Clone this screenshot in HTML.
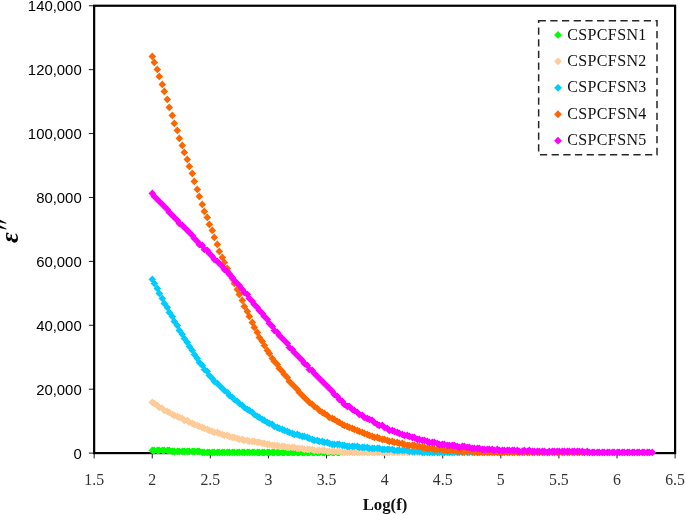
<!DOCTYPE html>
<html><head><meta charset="utf-8"><title>chart</title>
<style>html,body{margin:0;padding:0;background:#fff}svg{display:block;will-change:transform}</style>
</head><body>
<svg width="685" height="515" viewBox="0 0 685 515">
<rect width="685" height="515" fill="#fff"/>
<g stroke="#000" fill="none">
<rect x="94.15" y="5.75" width="580.95" height="447.35" stroke-width="2.2"/>
<path d="M94.15 453.1v5.3M152.25 453.1v5.3M210.34 453.1v5.3M268.44 453.1v5.3M326.53 453.1v5.3M384.62 453.1v5.3M442.72 453.1v5.3M500.82 453.1v5.3M558.91 453.1v5.3M617.00 453.1v5.3M675.10 453.1v5.3M94.15 453.10h-5.3M94.15 389.19h-5.3M94.15 325.29h-5.3M94.15 261.38h-5.3M94.15 197.47h-5.3M94.15 133.56h-5.3M94.15 69.66h-5.3M94.15 5.75h-5.3" stroke-width="0.9"/>
</g>
<path d="M152.3 446.6l3.8 3.8-3.8 3.8-3.8-3.8zM154.3 446.6l3.8 3.8-3.8 3.8-3.8-3.8zM157.3 446.6l3.8 3.8-3.8 3.8-3.8-3.8zM159.3 446.6l3.8 3.8-3.8 3.8-3.8-3.8zM162.3 446.6l3.8 3.8-3.8 3.8-3.8-3.8zM164.3 446.6l3.8 3.8-3.8 3.8-3.8-3.8zM167.3 446.6l3.8 3.8-3.8 3.8-3.8-3.8zM169.3 446.6l3.8 3.8-3.8 3.8-3.8-3.8zM172.3 447.6l3.8 3.8-3.8 3.8-3.8-3.8zM174.3 447.6l3.8 3.8-3.8 3.8-3.8-3.8zM177.3 447.6l3.8 3.8-3.8 3.8-3.8-3.8zM179.3 447.6l3.8 3.8-3.8 3.8-3.8-3.8zM182.3 447.6l3.8 3.8-3.8 3.8-3.8-3.8zM184.3 447.6l3.8 3.8-3.8 3.8-3.8-3.8zM187.3 447.6l3.8 3.8-3.8 3.8-3.8-3.8zM189.3 447.6l3.8 3.8-3.8 3.8-3.8-3.8zM192.3 447.6l3.8 3.8-3.8 3.8-3.8-3.8zM194.3 447.6l3.8 3.8-3.8 3.8-3.8-3.8zM197.3 447.6l3.8 3.8-3.8 3.8-3.8-3.8zM199.3 447.6l3.8 3.8-3.8 3.8-3.8-3.8zM202.3 448.6l3.8 3.8-3.8 3.8-3.8-3.8zM204.3 448.6l3.8 3.8-3.8 3.8-3.8-3.8zM207.3 448.6l3.8 3.8-3.8 3.8-3.8-3.8zM209.3 448.6l3.8 3.8-3.8 3.8-3.8-3.8zM212.3 448.6l3.8 3.8-3.8 3.8-3.8-3.8zM214.3 448.6l3.8 3.8-3.8 3.8-3.8-3.8zM217.3 448.6l3.8 3.8-3.8 3.8-3.8-3.8zM219.3 448.6l3.8 3.8-3.8 3.8-3.8-3.8zM222.3 448.6l3.8 3.8-3.8 3.8-3.8-3.8zM224.3 448.6l3.8 3.8-3.8 3.8-3.8-3.8zM227.3 448.6l3.8 3.8-3.8 3.8-3.8-3.8zM229.3 448.6l3.8 3.8-3.8 3.8-3.8-3.8zM232.3 448.6l3.8 3.8-3.8 3.8-3.8-3.8zM234.3 448.6l3.8 3.8-3.8 3.8-3.8-3.8zM237.3 448.6l3.8 3.8-3.8 3.8-3.8-3.8zM239.3 448.6l3.8 3.8-3.8 3.8-3.8-3.8zM242.3 448.6l3.8 3.8-3.8 3.8-3.8-3.8zM244.3 448.6l3.8 3.8-3.8 3.8-3.8-3.8zM247.3 448.6l3.8 3.8-3.8 3.8-3.8-3.8zM249.3 448.6l3.8 3.8-3.8 3.8-3.8-3.8zM252.3 448.6l3.8 3.8-3.8 3.8-3.8-3.8zM254.3 448.6l3.8 3.8-3.8 3.8-3.8-3.8zM257.3 448.6l3.8 3.8-3.8 3.8-3.8-3.8zM259.3 448.6l3.8 3.8-3.8 3.8-3.8-3.8zM262.3 448.6l3.8 3.8-3.8 3.8-3.8-3.8zM264.3 448.6l3.8 3.8-3.8 3.8-3.8-3.8zM267.3 448.6l3.8 3.8-3.8 3.8-3.8-3.8zM269.3 448.6l3.8 3.8-3.8 3.8-3.8-3.8zM272.3 448.6l3.8 3.8-3.8 3.8-3.8-3.8zM274.3 448.6l3.8 3.8-3.8 3.8-3.8-3.8zM277.3 448.6l3.8 3.8-3.8 3.8-3.8-3.8zM279.3 448.6l3.8 3.8-3.8 3.8-3.8-3.8zM282.3 448.6l3.8 3.8-3.8 3.8-3.8-3.8zM284.3 448.6l3.8 3.8-3.8 3.8-3.8-3.8zM287.3 448.6l3.8 3.8-3.8 3.8-3.8-3.8zM289.3 448.6l3.8 3.8-3.8 3.8-3.8-3.8zM292.3 448.6l3.8 3.8-3.8 3.8-3.8-3.8zM294.3 448.6l3.8 3.8-3.8 3.8-3.8-3.8zM297.3 448.6l3.8 3.8-3.8 3.8-3.8-3.8zM299.3 448.6l3.8 3.8-3.8 3.8-3.8-3.8zM302.3 448.6l3.8 3.8-3.8 3.8-3.8-3.8zM304.3 448.6l3.8 3.8-3.8 3.8-3.8-3.8zM307.3 448.6l3.8 3.8-3.8 3.8-3.8-3.8zM309.3 448.6l3.8 3.8-3.8 3.8-3.8-3.8zM312.3 448.6l3.8 3.8-3.8 3.8-3.8-3.8zM314.3 448.6l3.8 3.8-3.8 3.8-3.8-3.8zM317.3 448.6l3.8 3.8-3.8 3.8-3.8-3.8zM319.3 448.6l3.8 3.8-3.8 3.8-3.8-3.8zM322.3 448.6l3.8 3.8-3.8 3.8-3.8-3.8zM324.3 448.6l3.8 3.8-3.8 3.8-3.8-3.8zM327.3 448.6l3.8 3.8-3.8 3.8-3.8-3.8zM329.3 448.6l3.8 3.8-3.8 3.8-3.8-3.8zM332.3 448.6l3.8 3.8-3.8 3.8-3.8-3.8zM334.3 448.6l3.8 3.8-3.8 3.8-3.8-3.8zM337.3 448.6l3.8 3.8-3.8 3.8-3.8-3.8zM339.3 448.6l3.8 3.8-3.8 3.8-3.8-3.8z" fill="#00FF00"/>
<path d="M152.3 398.6l3.8 3.8-3.8 3.8-3.8-3.8zM154.3 399.6l3.8 3.8-3.8 3.8-3.8-3.8zM157.3 401.6l3.8 3.8-3.8 3.8-3.8-3.8zM159.3 403.6l3.8 3.8-3.8 3.8-3.8-3.8zM162.3 404.6l3.8 3.8-3.8 3.8-3.8-3.8zM164.3 406.6l3.8 3.8-3.8 3.8-3.8-3.8zM167.3 407.6l3.8 3.8-3.8 3.8-3.8-3.8zM169.3 408.6l3.8 3.8-3.8 3.8-3.8-3.8zM172.3 410.6l3.8 3.8-3.8 3.8-3.8-3.8zM174.3 411.6l3.8 3.8-3.8 3.8-3.8-3.8zM177.3 412.6l3.8 3.8-3.8 3.8-3.8-3.8zM179.3 413.6l3.8 3.8-3.8 3.8-3.8-3.8zM182.3 414.6l3.8 3.8-3.8 3.8-3.8-3.8zM184.3 416.6l3.8 3.8-3.8 3.8-3.8-3.8zM187.3 416.6l3.8 3.8-3.8 3.8-3.8-3.8zM189.3 418.6l3.8 3.8-3.8 3.8-3.8-3.8zM192.3 419.6l3.8 3.8-3.8 3.8-3.8-3.8zM194.3 420.6l3.8 3.8-3.8 3.8-3.8-3.8zM197.3 421.6l3.8 3.8-3.8 3.8-3.8-3.8zM199.3 422.6l3.8 3.8-3.8 3.8-3.8-3.8zM202.3 423.6l3.8 3.8-3.8 3.8-3.8-3.8zM204.3 424.6l3.8 3.8-3.8 3.8-3.8-3.8zM207.3 425.6l3.8 3.8-3.8 3.8-3.8-3.8zM209.3 426.6l3.8 3.8-3.8 3.8-3.8-3.8zM212.3 427.6l3.8 3.8-3.8 3.8-3.8-3.8zM214.3 428.6l3.8 3.8-3.8 3.8-3.8-3.8zM217.3 428.6l3.8 3.8-3.8 3.8-3.8-3.8zM219.3 429.6l3.8 3.8-3.8 3.8-3.8-3.8zM222.3 430.6l3.8 3.8-3.8 3.8-3.8-3.8zM224.3 431.6l3.8 3.8-3.8 3.8-3.8-3.8zM227.3 431.6l3.8 3.8-3.8 3.8-3.8-3.8zM229.3 432.6l3.8 3.8-3.8 3.8-3.8-3.8zM232.3 433.6l3.8 3.8-3.8 3.8-3.8-3.8zM234.3 433.6l3.8 3.8-3.8 3.8-3.8-3.8zM237.3 434.6l3.8 3.8-3.8 3.8-3.8-3.8zM239.3 435.6l3.8 3.8-3.8 3.8-3.8-3.8zM242.3 435.6l3.8 3.8-3.8 3.8-3.8-3.8zM244.3 436.6l3.8 3.8-3.8 3.8-3.8-3.8zM247.3 436.6l3.8 3.8-3.8 3.8-3.8-3.8zM249.3 437.6l3.8 3.8-3.8 3.8-3.8-3.8zM252.3 437.6l3.8 3.8-3.8 3.8-3.8-3.8zM254.3 437.6l3.8 3.8-3.8 3.8-3.8-3.8zM257.3 438.6l3.8 3.8-3.8 3.8-3.8-3.8zM259.3 438.6l3.8 3.8-3.8 3.8-3.8-3.8zM262.3 439.6l3.8 3.8-3.8 3.8-3.8-3.8zM264.3 439.6l3.8 3.8-3.8 3.8-3.8-3.8zM267.3 440.6l3.8 3.8-3.8 3.8-3.8-3.8zM269.3 440.6l3.8 3.8-3.8 3.8-3.8-3.8zM272.3 441.6l3.8 3.8-3.8 3.8-3.8-3.8zM274.3 441.6l3.8 3.8-3.8 3.8-3.8-3.8zM277.3 441.6l3.8 3.8-3.8 3.8-3.8-3.8zM279.3 442.6l3.8 3.8-3.8 3.8-3.8-3.8zM282.3 442.6l3.8 3.8-3.8 3.8-3.8-3.8zM284.3 442.6l3.8 3.8-3.8 3.8-3.8-3.8zM287.3 443.6l3.8 3.8-3.8 3.8-3.8-3.8zM289.3 443.6l3.8 3.8-3.8 3.8-3.8-3.8zM292.3 443.6l3.8 3.8-3.8 3.8-3.8-3.8zM294.3 443.6l3.8 3.8-3.8 3.8-3.8-3.8zM297.3 444.6l3.8 3.8-3.8 3.8-3.8-3.8zM299.3 444.6l3.8 3.8-3.8 3.8-3.8-3.8zM302.3 444.6l3.8 3.8-3.8 3.8-3.8-3.8zM304.3 445.6l3.8 3.8-3.8 3.8-3.8-3.8zM307.3 445.6l3.8 3.8-3.8 3.8-3.8-3.8zM309.3 445.6l3.8 3.8-3.8 3.8-3.8-3.8zM312.3 445.6l3.8 3.8-3.8 3.8-3.8-3.8zM314.3 446.6l3.8 3.8-3.8 3.8-3.8-3.8zM317.3 446.6l3.8 3.8-3.8 3.8-3.8-3.8zM319.3 446.6l3.8 3.8-3.8 3.8-3.8-3.8zM322.3 446.6l3.8 3.8-3.8 3.8-3.8-3.8zM324.3 446.6l3.8 3.8-3.8 3.8-3.8-3.8zM327.3 447.6l3.8 3.8-3.8 3.8-3.8-3.8zM329.3 447.6l3.8 3.8-3.8 3.8-3.8-3.8zM332.3 447.6l3.8 3.8-3.8 3.8-3.8-3.8zM334.3 447.6l3.8 3.8-3.8 3.8-3.8-3.8zM337.3 447.6l3.8 3.8-3.8 3.8-3.8-3.8zM339.3 447.6l3.8 3.8-3.8 3.8-3.8-3.8zM342.3 448.6l3.8 3.8-3.8 3.8-3.8-3.8zM344.3 448.6l3.8 3.8-3.8 3.8-3.8-3.8zM347.3 448.6l3.8 3.8-3.8 3.8-3.8-3.8zM349.3 448.6l3.8 3.8-3.8 3.8-3.8-3.8zM352.3 448.6l3.8 3.8-3.8 3.8-3.8-3.8zM354.3 448.6l3.8 3.8-3.8 3.8-3.8-3.8zM357.3 448.6l3.8 3.8-3.8 3.8-3.8-3.8zM359.3 448.6l3.8 3.8-3.8 3.8-3.8-3.8zM362.3 448.6l3.8 3.8-3.8 3.8-3.8-3.8zM364.3 448.6l3.8 3.8-3.8 3.8-3.8-3.8zM367.3 448.6l3.8 3.8-3.8 3.8-3.8-3.8zM369.3 448.6l3.8 3.8-3.8 3.8-3.8-3.8zM372.3 448.6l3.8 3.8-3.8 3.8-3.8-3.8zM374.3 448.6l3.8 3.8-3.8 3.8-3.8-3.8zM377.3 448.6l3.8 3.8-3.8 3.8-3.8-3.8zM379.3 448.6l3.8 3.8-3.8 3.8-3.8-3.8zM382.3 448.6l3.8 3.8-3.8 3.8-3.8-3.8zM384.3 448.6l3.8 3.8-3.8 3.8-3.8-3.8zM387.3 448.6l3.8 3.8-3.8 3.8-3.8-3.8zM389.3 448.6l3.8 3.8-3.8 3.8-3.8-3.8zM392.3 448.6l3.8 3.8-3.8 3.8-3.8-3.8zM394.3 448.6l3.8 3.8-3.8 3.8-3.8-3.8zM397.3 448.6l3.8 3.8-3.8 3.8-3.8-3.8zM399.3 448.6l3.8 3.8-3.8 3.8-3.8-3.8zM402.3 448.6l3.8 3.8-3.8 3.8-3.8-3.8zM404.3 448.6l3.8 3.8-3.8 3.8-3.8-3.8zM407.3 448.6l3.8 3.8-3.8 3.8-3.8-3.8zM409.3 448.6l3.8 3.8-3.8 3.8-3.8-3.8zM412.3 448.6l3.8 3.8-3.8 3.8-3.8-3.8zM414.3 448.6l3.8 3.8-3.8 3.8-3.8-3.8zM417.3 448.6l3.8 3.8-3.8 3.8-3.8-3.8zM419.3 448.6l3.8 3.8-3.8 3.8-3.8-3.8z" fill="#FFCC99"/>
<path d="M152.3 275.6l3.8 3.8-3.8 3.8-3.8-3.8zM154.3 279.6l3.8 3.8-3.8 3.8-3.8-3.8zM157.3 284.6l3.8 3.8-3.8 3.8-3.8-3.8zM159.3 289.6l3.8 3.8-3.8 3.8-3.8-3.8zM162.3 294.6l3.8 3.8-3.8 3.8-3.8-3.8zM164.3 299.6l3.8 3.8-3.8 3.8-3.8-3.8zM167.3 303.6l3.8 3.8-3.8 3.8-3.8-3.8zM169.3 308.6l3.8 3.8-3.8 3.8-3.8-3.8zM172.3 312.6l3.8 3.8-3.8 3.8-3.8-3.8zM174.3 317.6l3.8 3.8-3.8 3.8-3.8-3.8zM177.3 321.6l3.8 3.8-3.8 3.8-3.8-3.8zM179.3 326.6l3.8 3.8-3.8 3.8-3.8-3.8zM182.3 330.6l3.8 3.8-3.8 3.8-3.8-3.8zM184.3 334.6l3.8 3.8-3.8 3.8-3.8-3.8zM187.3 338.6l3.8 3.8-3.8 3.8-3.8-3.8zM189.3 342.6l3.8 3.8-3.8 3.8-3.8-3.8zM192.3 346.6l3.8 3.8-3.8 3.8-3.8-3.8zM194.3 350.6l3.8 3.8-3.8 3.8-3.8-3.8zM197.3 354.6l3.8 3.8-3.8 3.8-3.8-3.8zM199.3 358.6l3.8 3.8-3.8 3.8-3.8-3.8zM202.3 361.6l3.8 3.8-3.8 3.8-3.8-3.8zM204.3 365.6l3.8 3.8-3.8 3.8-3.8-3.8zM207.3 367.6l3.8 3.8-3.8 3.8-3.8-3.8zM209.3 371.6l3.8 3.8-3.8 3.8-3.8-3.8zM212.3 374.6l3.8 3.8-3.8 3.8-3.8-3.8zM214.3 377.6l3.8 3.8-3.8 3.8-3.8-3.8zM217.3 379.6l3.8 3.8-3.8 3.8-3.8-3.8zM219.3 381.6l3.8 3.8-3.8 3.8-3.8-3.8zM222.3 384.6l3.8 3.8-3.8 3.8-3.8-3.8zM224.3 386.6l3.8 3.8-3.8 3.8-3.8-3.8zM227.3 388.6l3.8 3.8-3.8 3.8-3.8-3.8zM229.3 391.6l3.8 3.8-3.8 3.8-3.8-3.8zM232.3 393.6l3.8 3.8-3.8 3.8-3.8-3.8zM234.3 395.6l3.8 3.8-3.8 3.8-3.8-3.8zM237.3 397.6l3.8 3.8-3.8 3.8-3.8-3.8zM239.3 399.6l3.8 3.8-3.8 3.8-3.8-3.8zM242.3 401.6l3.8 3.8-3.8 3.8-3.8-3.8zM244.3 403.6l3.8 3.8-3.8 3.8-3.8-3.8zM247.3 405.6l3.8 3.8-3.8 3.8-3.8-3.8zM249.3 406.6l3.8 3.8-3.8 3.8-3.8-3.8zM252.3 408.6l3.8 3.8-3.8 3.8-3.8-3.8zM254.3 410.6l3.8 3.8-3.8 3.8-3.8-3.8zM257.3 412.6l3.8 3.8-3.8 3.8-3.8-3.8zM259.3 413.6l3.8 3.8-3.8 3.8-3.8-3.8zM262.3 415.6l3.8 3.8-3.8 3.8-3.8-3.8zM264.3 416.6l3.8 3.8-3.8 3.8-3.8-3.8zM267.3 418.6l3.8 3.8-3.8 3.8-3.8-3.8zM269.3 419.6l3.8 3.8-3.8 3.8-3.8-3.8zM272.3 420.6l3.8 3.8-3.8 3.8-3.8-3.8zM274.3 422.6l3.8 3.8-3.8 3.8-3.8-3.8zM277.3 423.6l3.8 3.8-3.8 3.8-3.8-3.8zM279.3 424.6l3.8 3.8-3.8 3.8-3.8-3.8zM282.3 425.6l3.8 3.8-3.8 3.8-3.8-3.8zM284.3 426.6l3.8 3.8-3.8 3.8-3.8-3.8zM287.3 427.6l3.8 3.8-3.8 3.8-3.8-3.8zM289.3 428.6l3.8 3.8-3.8 3.8-3.8-3.8zM292.3 429.6l3.8 3.8-3.8 3.8-3.8-3.8zM294.3 430.6l3.8 3.8-3.8 3.8-3.8-3.8zM297.3 430.6l3.8 3.8-3.8 3.8-3.8-3.8zM299.3 431.6l3.8 3.8-3.8 3.8-3.8-3.8zM302.3 432.6l3.8 3.8-3.8 3.8-3.8-3.8zM304.3 432.6l3.8 3.8-3.8 3.8-3.8-3.8zM307.3 433.6l3.8 3.8-3.8 3.8-3.8-3.8zM309.3 434.6l3.8 3.8-3.8 3.8-3.8-3.8zM312.3 435.6l3.8 3.8-3.8 3.8-3.8-3.8zM314.3 436.6l3.8 3.8-3.8 3.8-3.8-3.8zM317.3 436.6l3.8 3.8-3.8 3.8-3.8-3.8zM319.3 437.6l3.8 3.8-3.8 3.8-3.8-3.8zM322.3 437.6l3.8 3.8-3.8 3.8-3.8-3.8zM324.3 438.6l3.8 3.8-3.8 3.8-3.8-3.8zM327.3 438.6l3.8 3.8-3.8 3.8-3.8-3.8zM329.3 439.6l3.8 3.8-3.8 3.8-3.8-3.8zM332.3 440.6l3.8 3.8-3.8 3.8-3.8-3.8zM334.3 440.6l3.8 3.8-3.8 3.8-3.8-3.8zM337.3 440.6l3.8 3.8-3.8 3.8-3.8-3.8zM339.3 440.6l3.8 3.8-3.8 3.8-3.8-3.8zM342.3 441.6l3.8 3.8-3.8 3.8-3.8-3.8zM344.3 441.6l3.8 3.8-3.8 3.8-3.8-3.8zM347.3 442.6l3.8 3.8-3.8 3.8-3.8-3.8zM349.3 442.6l3.8 3.8-3.8 3.8-3.8-3.8zM352.3 442.6l3.8 3.8-3.8 3.8-3.8-3.8zM354.3 442.6l3.8 3.8-3.8 3.8-3.8-3.8zM357.3 442.6l3.8 3.8-3.8 3.8-3.8-3.8zM359.3 443.6l3.8 3.8-3.8 3.8-3.8-3.8zM362.3 443.6l3.8 3.8-3.8 3.8-3.8-3.8zM364.3 443.6l3.8 3.8-3.8 3.8-3.8-3.8zM367.3 443.6l3.8 3.8-3.8 3.8-3.8-3.8zM369.3 444.6l3.8 3.8-3.8 3.8-3.8-3.8zM372.3 444.6l3.8 3.8-3.8 3.8-3.8-3.8zM374.3 444.6l3.8 3.8-3.8 3.8-3.8-3.8zM377.3 444.6l3.8 3.8-3.8 3.8-3.8-3.8zM379.3 444.6l3.8 3.8-3.8 3.8-3.8-3.8zM382.3 445.6l3.8 3.8-3.8 3.8-3.8-3.8zM384.3 445.6l3.8 3.8-3.8 3.8-3.8-3.8zM387.3 445.6l3.8 3.8-3.8 3.8-3.8-3.8zM389.3 445.6l3.8 3.8-3.8 3.8-3.8-3.8zM392.3 445.6l3.8 3.8-3.8 3.8-3.8-3.8zM394.3 446.6l3.8 3.8-3.8 3.8-3.8-3.8zM397.3 446.6l3.8 3.8-3.8 3.8-3.8-3.8zM399.3 446.6l3.8 3.8-3.8 3.8-3.8-3.8zM402.3 446.6l3.8 3.8-3.8 3.8-3.8-3.8zM404.3 446.6l3.8 3.8-3.8 3.8-3.8-3.8zM407.3 446.6l3.8 3.8-3.8 3.8-3.8-3.8zM409.3 447.6l3.8 3.8-3.8 3.8-3.8-3.8zM412.3 447.6l3.8 3.8-3.8 3.8-3.8-3.8zM414.3 447.6l3.8 3.8-3.8 3.8-3.8-3.8zM417.3 447.6l3.8 3.8-3.8 3.8-3.8-3.8zM419.3 447.6l3.8 3.8-3.8 3.8-3.8-3.8zM422.3 448.6l3.8 3.8-3.8 3.8-3.8-3.8zM424.3 448.6l3.8 3.8-3.8 3.8-3.8-3.8zM427.3 448.6l3.8 3.8-3.8 3.8-3.8-3.8zM429.3 448.6l3.8 3.8-3.8 3.8-3.8-3.8zM432.3 448.6l3.8 3.8-3.8 3.8-3.8-3.8zM434.3 448.6l3.8 3.8-3.8 3.8-3.8-3.8zM437.3 448.6l3.8 3.8-3.8 3.8-3.8-3.8zM439.3 448.6l3.8 3.8-3.8 3.8-3.8-3.8zM442.3 448.6l3.8 3.8-3.8 3.8-3.8-3.8zM444.3 448.6l3.8 3.8-3.8 3.8-3.8-3.8zM447.3 448.6l3.8 3.8-3.8 3.8-3.8-3.8zM449.3 448.6l3.8 3.8-3.8 3.8-3.8-3.8zM452.3 448.6l3.8 3.8-3.8 3.8-3.8-3.8zM454.3 448.6l3.8 3.8-3.8 3.8-3.8-3.8zM457.3 448.6l3.8 3.8-3.8 3.8-3.8-3.8zM459.3 448.6l3.8 3.8-3.8 3.8-3.8-3.8zM462.3 448.6l3.8 3.8-3.8 3.8-3.8-3.8zM464.3 448.6l3.8 3.8-3.8 3.8-3.8-3.8zM467.3 448.6l3.8 3.8-3.8 3.8-3.8-3.8zM469.3 448.6l3.8 3.8-3.8 3.8-3.8-3.8zM472.3 448.6l3.8 3.8-3.8 3.8-3.8-3.8z" fill="#00CCFF"/>
<path d="M152.3 52.6l3.8 3.8-3.8 3.8-3.8-3.8zM154.3 58.6l3.8 3.8-3.8 3.8-3.8-3.8zM157.3 65.6l3.8 3.8-3.8 3.8-3.8-3.8zM159.3 72.6l3.8 3.8-3.8 3.8-3.8-3.8zM162.3 80.6l3.8 3.8-3.8 3.8-3.8-3.8zM164.3 87.6l3.8 3.8-3.8 3.8-3.8-3.8zM167.3 95.6l3.8 3.8-3.8 3.8-3.8-3.8zM169.3 103.6l3.8 3.8-3.8 3.8-3.8-3.8zM172.3 111.6l3.8 3.8-3.8 3.8-3.8-3.8zM174.3 119.6l3.8 3.8-3.8 3.8-3.8-3.8zM177.3 126.6l3.8 3.8-3.8 3.8-3.8-3.8zM179.3 134.6l3.8 3.8-3.8 3.8-3.8-3.8zM182.3 141.6l3.8 3.8-3.8 3.8-3.8-3.8zM184.3 148.6l3.8 3.8-3.8 3.8-3.8-3.8zM187.3 155.6l3.8 3.8-3.8 3.8-3.8-3.8zM189.3 162.6l3.8 3.8-3.8 3.8-3.8-3.8zM192.3 169.6l3.8 3.8-3.8 3.8-3.8-3.8zM194.3 177.6l3.8 3.8-3.8 3.8-3.8-3.8zM197.3 185.6l3.8 3.8-3.8 3.8-3.8-3.8zM199.3 192.6l3.8 3.8-3.8 3.8-3.8-3.8zM202.3 200.6l3.8 3.8-3.8 3.8-3.8-3.8zM204.3 207.6l3.8 3.8-3.8 3.8-3.8-3.8zM207.3 213.6l3.8 3.8-3.8 3.8-3.8-3.8zM209.3 220.6l3.8 3.8-3.8 3.8-3.8-3.8zM212.3 226.6l3.8 3.8-3.8 3.8-3.8-3.8zM214.3 233.6l3.8 3.8-3.8 3.8-3.8-3.8zM217.3 240.6l3.8 3.8-3.8 3.8-3.8-3.8zM219.3 247.6l3.8 3.8-3.8 3.8-3.8-3.8zM222.3 253.6l3.8 3.8-3.8 3.8-3.8-3.8zM224.3 258.6l3.8 3.8-3.8 3.8-3.8-3.8zM227.3 264.6l3.8 3.8-3.8 3.8-3.8-3.8zM229.3 269.6l3.8 3.8-3.8 3.8-3.8-3.8zM232.3 274.6l3.8 3.8-3.8 3.8-3.8-3.8zM234.3 279.6l3.8 3.8-3.8 3.8-3.8-3.8zM237.3 285.6l3.8 3.8-3.8 3.8-3.8-3.8zM239.3 290.6l3.8 3.8-3.8 3.8-3.8-3.8zM242.3 296.6l3.8 3.8-3.8 3.8-3.8-3.8zM244.3 302.6l3.8 3.8-3.8 3.8-3.8-3.8zM247.3 307.6l3.8 3.8-3.8 3.8-3.8-3.8zM249.3 312.6l3.8 3.8-3.8 3.8-3.8-3.8zM252.3 318.6l3.8 3.8-3.8 3.8-3.8-3.8zM254.3 323.6l3.8 3.8-3.8 3.8-3.8-3.8zM257.3 328.6l3.8 3.8-3.8 3.8-3.8-3.8zM259.3 333.6l3.8 3.8-3.8 3.8-3.8-3.8zM262.3 337.6l3.8 3.8-3.8 3.8-3.8-3.8zM264.3 341.6l3.8 3.8-3.8 3.8-3.8-3.8zM267.3 346.6l3.8 3.8-3.8 3.8-3.8-3.8zM269.3 349.6l3.8 3.8-3.8 3.8-3.8-3.8zM272.3 354.6l3.8 3.8-3.8 3.8-3.8-3.8zM274.3 357.6l3.8 3.8-3.8 3.8-3.8-3.8zM277.3 360.6l3.8 3.8-3.8 3.8-3.8-3.8zM279.3 364.6l3.8 3.8-3.8 3.8-3.8-3.8zM282.3 367.6l3.8 3.8-3.8 3.8-3.8-3.8zM284.3 370.6l3.8 3.8-3.8 3.8-3.8-3.8zM287.3 373.6l3.8 3.8-3.8 3.8-3.8-3.8zM289.3 377.6l3.8 3.8-3.8 3.8-3.8-3.8zM292.3 380.6l3.8 3.8-3.8 3.8-3.8-3.8zM294.3 382.6l3.8 3.8-3.8 3.8-3.8-3.8zM297.3 385.6l3.8 3.8-3.8 3.8-3.8-3.8zM299.3 388.6l3.8 3.8-3.8 3.8-3.8-3.8zM302.3 391.6l3.8 3.8-3.8 3.8-3.8-3.8zM304.3 393.6l3.8 3.8-3.8 3.8-3.8-3.8zM307.3 396.6l3.8 3.8-3.8 3.8-3.8-3.8zM309.3 398.6l3.8 3.8-3.8 3.8-3.8-3.8zM312.3 400.6l3.8 3.8-3.8 3.8-3.8-3.8zM314.3 402.6l3.8 3.8-3.8 3.8-3.8-3.8zM317.3 404.6l3.8 3.8-3.8 3.8-3.8-3.8zM319.3 406.6l3.8 3.8-3.8 3.8-3.8-3.8zM322.3 408.6l3.8 3.8-3.8 3.8-3.8-3.8zM324.3 409.6l3.8 3.8-3.8 3.8-3.8-3.8zM327.3 411.6l3.8 3.8-3.8 3.8-3.8-3.8zM329.3 413.6l3.8 3.8-3.8 3.8-3.8-3.8zM332.3 414.6l3.8 3.8-3.8 3.8-3.8-3.8zM334.3 415.6l3.8 3.8-3.8 3.8-3.8-3.8zM337.3 417.6l3.8 3.8-3.8 3.8-3.8-3.8zM339.3 418.6l3.8 3.8-3.8 3.8-3.8-3.8zM342.3 420.6l3.8 3.8-3.8 3.8-3.8-3.8zM344.3 421.6l3.8 3.8-3.8 3.8-3.8-3.8zM347.3 422.6l3.8 3.8-3.8 3.8-3.8-3.8zM349.3 423.6l3.8 3.8-3.8 3.8-3.8-3.8zM352.3 424.6l3.8 3.8-3.8 3.8-3.8-3.8zM354.3 425.6l3.8 3.8-3.8 3.8-3.8-3.8zM357.3 426.6l3.8 3.8-3.8 3.8-3.8-3.8zM359.3 427.6l3.8 3.8-3.8 3.8-3.8-3.8zM362.3 428.6l3.8 3.8-3.8 3.8-3.8-3.8zM364.3 429.6l3.8 3.8-3.8 3.8-3.8-3.8zM367.3 430.6l3.8 3.8-3.8 3.8-3.8-3.8zM369.3 431.6l3.8 3.8-3.8 3.8-3.8-3.8zM372.3 432.6l3.8 3.8-3.8 3.8-3.8-3.8zM374.3 433.6l3.8 3.8-3.8 3.8-3.8-3.8zM377.3 433.6l3.8 3.8-3.8 3.8-3.8-3.8zM379.3 434.6l3.8 3.8-3.8 3.8-3.8-3.8zM382.3 435.6l3.8 3.8-3.8 3.8-3.8-3.8zM384.3 435.6l3.8 3.8-3.8 3.8-3.8-3.8zM387.3 436.6l3.8 3.8-3.8 3.8-3.8-3.8zM389.3 437.6l3.8 3.8-3.8 3.8-3.8-3.8zM392.3 437.6l3.8 3.8-3.8 3.8-3.8-3.8zM394.3 438.6l3.8 3.8-3.8 3.8-3.8-3.8zM397.3 438.6l3.8 3.8-3.8 3.8-3.8-3.8zM399.3 439.6l3.8 3.8-3.8 3.8-3.8-3.8zM402.3 439.6l3.8 3.8-3.8 3.8-3.8-3.8zM404.3 440.6l3.8 3.8-3.8 3.8-3.8-3.8zM407.3 441.6l3.8 3.8-3.8 3.8-3.8-3.8zM409.3 441.6l3.8 3.8-3.8 3.8-3.8-3.8zM412.3 441.6l3.8 3.8-3.8 3.8-3.8-3.8zM414.3 441.6l3.8 3.8-3.8 3.8-3.8-3.8zM417.3 442.6l3.8 3.8-3.8 3.8-3.8-3.8zM419.3 442.6l3.8 3.8-3.8 3.8-3.8-3.8zM422.3 443.6l3.8 3.8-3.8 3.8-3.8-3.8zM424.3 443.6l3.8 3.8-3.8 3.8-3.8-3.8zM427.3 444.6l3.8 3.8-3.8 3.8-3.8-3.8zM429.3 444.6l3.8 3.8-3.8 3.8-3.8-3.8zM432.3 444.6l3.8 3.8-3.8 3.8-3.8-3.8zM434.3 445.6l3.8 3.8-3.8 3.8-3.8-3.8zM437.3 445.6l3.8 3.8-3.8 3.8-3.8-3.8zM439.3 445.6l3.8 3.8-3.8 3.8-3.8-3.8zM442.3 445.6l3.8 3.8-3.8 3.8-3.8-3.8zM444.3 446.6l3.8 3.8-3.8 3.8-3.8-3.8zM447.3 446.6l3.8 3.8-3.8 3.8-3.8-3.8zM449.3 446.6l3.8 3.8-3.8 3.8-3.8-3.8zM452.3 446.6l3.8 3.8-3.8 3.8-3.8-3.8zM454.3 446.6l3.8 3.8-3.8 3.8-3.8-3.8zM457.3 447.6l3.8 3.8-3.8 3.8-3.8-3.8zM459.3 447.6l3.8 3.8-3.8 3.8-3.8-3.8zM462.3 447.6l3.8 3.8-3.8 3.8-3.8-3.8zM464.3 447.6l3.8 3.8-3.8 3.8-3.8-3.8zM467.3 447.6l3.8 3.8-3.8 3.8-3.8-3.8zM469.3 447.6l3.8 3.8-3.8 3.8-3.8-3.8zM472.3 447.6l3.8 3.8-3.8 3.8-3.8-3.8zM474.3 448.6l3.8 3.8-3.8 3.8-3.8-3.8zM477.3 448.6l3.8 3.8-3.8 3.8-3.8-3.8zM479.3 448.6l3.8 3.8-3.8 3.8-3.8-3.8zM482.3 448.6l3.8 3.8-3.8 3.8-3.8-3.8zM484.3 448.6l3.8 3.8-3.8 3.8-3.8-3.8zM487.3 448.6l3.8 3.8-3.8 3.8-3.8-3.8zM489.3 448.6l3.8 3.8-3.8 3.8-3.8-3.8zM492.3 448.6l3.8 3.8-3.8 3.8-3.8-3.8zM494.3 448.6l3.8 3.8-3.8 3.8-3.8-3.8zM497.3 448.6l3.8 3.8-3.8 3.8-3.8-3.8zM499.3 448.6l3.8 3.8-3.8 3.8-3.8-3.8zM502.3 448.6l3.8 3.8-3.8 3.8-3.8-3.8zM504.3 448.6l3.8 3.8-3.8 3.8-3.8-3.8zM507.3 448.6l3.8 3.8-3.8 3.8-3.8-3.8zM509.3 448.6l3.8 3.8-3.8 3.8-3.8-3.8zM512.3 448.6l3.8 3.8-3.8 3.8-3.8-3.8zM514.3 448.6l3.8 3.8-3.8 3.8-3.8-3.8zM517.3 448.6l3.8 3.8-3.8 3.8-3.8-3.8zM519.3 448.6l3.8 3.8-3.8 3.8-3.8-3.8zM522.3 448.6l3.8 3.8-3.8 3.8-3.8-3.8zM524.3 448.6l3.8 3.8-3.8 3.8-3.8-3.8zM527.3 448.6l3.8 3.8-3.8 3.8-3.8-3.8zM529.3 448.6l3.8 3.8-3.8 3.8-3.8-3.8zM532.3 448.6l3.8 3.8-3.8 3.8-3.8-3.8zM534.3 448.6l3.8 3.8-3.8 3.8-3.8-3.8zM537.3 448.6l3.8 3.8-3.8 3.8-3.8-3.8zM539.3 448.6l3.8 3.8-3.8 3.8-3.8-3.8zM542.3 448.6l3.8 3.8-3.8 3.8-3.8-3.8zM544.3 448.6l3.8 3.8-3.8 3.8-3.8-3.8zM549.3 448.6l3.8 3.8-3.8 3.8-3.8-3.8zM552.3 448.6l3.8 3.8-3.8 3.8-3.8-3.8zM554.3 448.6l3.8 3.8-3.8 3.8-3.8-3.8zM557.3 448.6l3.8 3.8-3.8 3.8-3.8-3.8zM559.3 448.6l3.8 3.8-3.8 3.8-3.8-3.8zM562.3 448.6l3.8 3.8-3.8 3.8-3.8-3.8zM564.3 448.6l3.8 3.8-3.8 3.8-3.8-3.8zM567.3 448.6l3.8 3.8-3.8 3.8-3.8-3.8zM569.3 448.6l3.8 3.8-3.8 3.8-3.8-3.8zM572.3 448.6l3.8 3.8-3.8 3.8-3.8-3.8zM574.3 448.6l3.8 3.8-3.8 3.8-3.8-3.8zM577.3 448.6l3.8 3.8-3.8 3.8-3.8-3.8zM579.3 448.6l3.8 3.8-3.8 3.8-3.8-3.8zM582.3 448.6l3.8 3.8-3.8 3.8-3.8-3.8zM587.3 448.6l3.8 3.8-3.8 3.8-3.8-3.8z" fill="#FF6600"/>
<path d="M152.3 189.6l3.8 3.8-3.8 3.8-3.8-3.8zM154.3 192.6l3.8 3.8-3.8 3.8-3.8-3.8zM157.3 195.6l3.8 3.8-3.8 3.8-3.8-3.8zM159.3 197.6l3.8 3.8-3.8 3.8-3.8-3.8zM162.3 200.6l3.8 3.8-3.8 3.8-3.8-3.8zM164.3 202.6l3.8 3.8-3.8 3.8-3.8-3.8zM167.3 205.6l3.8 3.8-3.8 3.8-3.8-3.8zM169.3 208.6l3.8 3.8-3.8 3.8-3.8-3.8zM172.3 211.6l3.8 3.8-3.8 3.8-3.8-3.8zM174.3 213.6l3.8 3.8-3.8 3.8-3.8-3.8zM177.3 216.6l3.8 3.8-3.8 3.8-3.8-3.8zM179.3 219.6l3.8 3.8-3.8 3.8-3.8-3.8zM182.3 221.6l3.8 3.8-3.8 3.8-3.8-3.8zM184.3 223.6l3.8 3.8-3.8 3.8-3.8-3.8zM187.3 226.6l3.8 3.8-3.8 3.8-3.8-3.8zM189.3 228.6l3.8 3.8-3.8 3.8-3.8-3.8zM192.3 231.6l3.8 3.8-3.8 3.8-3.8-3.8zM194.3 234.6l3.8 3.8-3.8 3.8-3.8-3.8zM197.3 237.6l3.8 3.8-3.8 3.8-3.8-3.8zM199.3 240.6l3.8 3.8-3.8 3.8-3.8-3.8zM202.3 241.6l3.8 3.8-3.8 3.8-3.8-3.8zM204.3 245.6l3.8 3.8-3.8 3.8-3.8-3.8zM207.3 246.6l3.8 3.8-3.8 3.8-3.8-3.8zM209.3 249.6l3.8 3.8-3.8 3.8-3.8-3.8zM212.3 252.6l3.8 3.8-3.8 3.8-3.8-3.8zM214.3 255.6l3.8 3.8-3.8 3.8-3.8-3.8zM217.3 257.6l3.8 3.8-3.8 3.8-3.8-3.8zM219.3 259.6l3.8 3.8-3.8 3.8-3.8-3.8zM222.3 262.6l3.8 3.8-3.8 3.8-3.8-3.8zM224.3 265.6l3.8 3.8-3.8 3.8-3.8-3.8zM227.3 267.6l3.8 3.8-3.8 3.8-3.8-3.8zM229.3 270.6l3.8 3.8-3.8 3.8-3.8-3.8zM232.3 273.6l3.8 3.8-3.8 3.8-3.8-3.8zM234.3 276.6l3.8 3.8-3.8 3.8-3.8-3.8zM237.3 279.6l3.8 3.8-3.8 3.8-3.8-3.8zM239.3 281.6l3.8 3.8-3.8 3.8-3.8-3.8zM242.3 285.6l3.8 3.8-3.8 3.8-3.8-3.8zM244.3 288.6l3.8 3.8-3.8 3.8-3.8-3.8zM247.3 290.6l3.8 3.8-3.8 3.8-3.8-3.8zM249.3 294.6l3.8 3.8-3.8 3.8-3.8-3.8zM252.3 297.6l3.8 3.8-3.8 3.8-3.8-3.8zM254.3 300.6l3.8 3.8-3.8 3.8-3.8-3.8zM257.3 303.6l3.8 3.8-3.8 3.8-3.8-3.8zM259.3 306.6l3.8 3.8-3.8 3.8-3.8-3.8zM262.3 309.6l3.8 3.8-3.8 3.8-3.8-3.8zM264.3 312.6l3.8 3.8-3.8 3.8-3.8-3.8zM267.3 315.6l3.8 3.8-3.8 3.8-3.8-3.8zM269.3 319.6l3.8 3.8-3.8 3.8-3.8-3.8zM272.3 322.6l3.8 3.8-3.8 3.8-3.8-3.8zM274.3 326.6l3.8 3.8-3.8 3.8-3.8-3.8zM277.3 328.6l3.8 3.8-3.8 3.8-3.8-3.8zM279.3 331.6l3.8 3.8-3.8 3.8-3.8-3.8zM282.3 334.6l3.8 3.8-3.8 3.8-3.8-3.8zM284.3 336.6l3.8 3.8-3.8 3.8-3.8-3.8zM287.3 339.6l3.8 3.8-3.8 3.8-3.8-3.8zM289.3 343.6l3.8 3.8-3.8 3.8-3.8-3.8zM292.3 345.6l3.8 3.8-3.8 3.8-3.8-3.8zM294.3 348.6l3.8 3.8-3.8 3.8-3.8-3.8zM297.3 351.6l3.8 3.8-3.8 3.8-3.8-3.8zM299.3 353.6l3.8 3.8-3.8 3.8-3.8-3.8zM302.3 356.6l3.8 3.8-3.8 3.8-3.8-3.8zM304.3 359.6l3.8 3.8-3.8 3.8-3.8-3.8zM307.3 361.6l3.8 3.8-3.8 3.8-3.8-3.8zM309.3 365.6l3.8 3.8-3.8 3.8-3.8-3.8zM312.3 366.6l3.8 3.8-3.8 3.8-3.8-3.8zM314.3 369.6l3.8 3.8-3.8 3.8-3.8-3.8zM317.3 372.6l3.8 3.8-3.8 3.8-3.8-3.8zM319.3 374.6l3.8 3.8-3.8 3.8-3.8-3.8zM322.3 377.6l3.8 3.8-3.8 3.8-3.8-3.8zM324.3 379.6l3.8 3.8-3.8 3.8-3.8-3.8zM327.3 382.6l3.8 3.8-3.8 3.8-3.8-3.8zM329.3 384.6l3.8 3.8-3.8 3.8-3.8-3.8zM332.3 387.6l3.8 3.8-3.8 3.8-3.8-3.8zM334.3 390.6l3.8 3.8-3.8 3.8-3.8-3.8zM337.3 392.6l3.8 3.8-3.8 3.8-3.8-3.8zM339.3 395.6l3.8 3.8-3.8 3.8-3.8-3.8zM342.3 397.6l3.8 3.8-3.8 3.8-3.8-3.8zM344.3 400.6l3.8 3.8-3.8 3.8-3.8-3.8zM347.3 402.6l3.8 3.8-3.8 3.8-3.8-3.8zM349.3 402.6l3.8 3.8-3.8 3.8-3.8-3.8zM352.3 405.6l3.8 3.8-3.8 3.8-3.8-3.8zM354.3 406.6l3.8 3.8-3.8 3.8-3.8-3.8zM357.3 408.6l3.8 3.8-3.8 3.8-3.8-3.8zM359.3 410.6l3.8 3.8-3.8 3.8-3.8-3.8zM362.3 411.6l3.8 3.8-3.8 3.8-3.8-3.8zM364.3 413.6l3.8 3.8-3.8 3.8-3.8-3.8zM367.3 414.6l3.8 3.8-3.8 3.8-3.8-3.8zM369.3 415.6l3.8 3.8-3.8 3.8-3.8-3.8zM372.3 416.6l3.8 3.8-3.8 3.8-3.8-3.8zM374.3 418.6l3.8 3.8-3.8 3.8-3.8-3.8zM377.3 420.6l3.8 3.8-3.8 3.8-3.8-3.8zM379.3 421.6l3.8 3.8-3.8 3.8-3.8-3.8zM382.3 421.6l3.8 3.8-3.8 3.8-3.8-3.8zM384.3 423.6l3.8 3.8-3.8 3.8-3.8-3.8zM387.3 424.6l3.8 3.8-3.8 3.8-3.8-3.8zM389.3 426.6l3.8 3.8-3.8 3.8-3.8-3.8zM392.3 426.6l3.8 3.8-3.8 3.8-3.8-3.8zM394.3 427.6l3.8 3.8-3.8 3.8-3.8-3.8zM397.3 428.6l3.8 3.8-3.8 3.8-3.8-3.8zM399.3 429.6l3.8 3.8-3.8 3.8-3.8-3.8zM402.3 430.6l3.8 3.8-3.8 3.8-3.8-3.8zM404.3 431.6l3.8 3.8-3.8 3.8-3.8-3.8zM407.3 431.6l3.8 3.8-3.8 3.8-3.8-3.8zM409.3 432.6l3.8 3.8-3.8 3.8-3.8-3.8zM412.3 433.6l3.8 3.8-3.8 3.8-3.8-3.8zM414.3 433.6l3.8 3.8-3.8 3.8-3.8-3.8zM417.3 435.6l3.8 3.8-3.8 3.8-3.8-3.8zM419.3 435.6l3.8 3.8-3.8 3.8-3.8-3.8zM422.3 436.6l3.8 3.8-3.8 3.8-3.8-3.8zM424.3 436.6l3.8 3.8-3.8 3.8-3.8-3.8zM427.3 437.6l3.8 3.8-3.8 3.8-3.8-3.8zM429.3 438.6l3.8 3.8-3.8 3.8-3.8-3.8zM432.3 438.6l3.8 3.8-3.8 3.8-3.8-3.8zM434.3 438.6l3.8 3.8-3.8 3.8-3.8-3.8zM437.3 439.6l3.8 3.8-3.8 3.8-3.8-3.8zM439.3 440.6l3.8 3.8-3.8 3.8-3.8-3.8zM442.3 440.6l3.8 3.8-3.8 3.8-3.8-3.8zM444.3 440.6l3.8 3.8-3.8 3.8-3.8-3.8zM447.3 441.6l3.8 3.8-3.8 3.8-3.8-3.8zM449.3 441.6l3.8 3.8-3.8 3.8-3.8-3.8zM452.3 441.6l3.8 3.8-3.8 3.8-3.8-3.8zM454.3 441.6l3.8 3.8-3.8 3.8-3.8-3.8zM457.3 442.6l3.8 3.8-3.8 3.8-3.8-3.8zM459.3 443.6l3.8 3.8-3.8 3.8-3.8-3.8zM462.3 442.6l3.8 3.8-3.8 3.8-3.8-3.8zM464.3 442.6l3.8 3.8-3.8 3.8-3.8-3.8zM467.3 443.6l3.8 3.8-3.8 3.8-3.8-3.8zM469.3 443.6l3.8 3.8-3.8 3.8-3.8-3.8zM472.3 444.6l3.8 3.8-3.8 3.8-3.8-3.8zM474.3 444.6l3.8 3.8-3.8 3.8-3.8-3.8zM477.3 444.6l3.8 3.8-3.8 3.8-3.8-3.8zM479.3 444.6l3.8 3.8-3.8 3.8-3.8-3.8zM482.3 445.6l3.8 3.8-3.8 3.8-3.8-3.8zM484.3 445.6l3.8 3.8-3.8 3.8-3.8-3.8zM487.3 445.6l3.8 3.8-3.8 3.8-3.8-3.8zM489.3 445.6l3.8 3.8-3.8 3.8-3.8-3.8zM492.3 445.6l3.8 3.8-3.8 3.8-3.8-3.8zM494.3 446.6l3.8 3.8-3.8 3.8-3.8-3.8zM497.3 445.6l3.8 3.8-3.8 3.8-3.8-3.8zM499.3 446.6l3.8 3.8-3.8 3.8-3.8-3.8zM502.3 446.6l3.8 3.8-3.8 3.8-3.8-3.8zM504.3 446.6l3.8 3.8-3.8 3.8-3.8-3.8zM507.3 446.6l3.8 3.8-3.8 3.8-3.8-3.8zM509.3 446.6l3.8 3.8-3.8 3.8-3.8-3.8zM512.3 446.6l3.8 3.8-3.8 3.8-3.8-3.8zM514.3 446.6l3.8 3.8-3.8 3.8-3.8-3.8zM517.3 446.6l3.8 3.8-3.8 3.8-3.8-3.8zM519.3 447.6l3.8 3.8-3.8 3.8-3.8-3.8zM522.3 447.6l3.8 3.8-3.8 3.8-3.8-3.8zM524.3 446.6l3.8 3.8-3.8 3.8-3.8-3.8zM527.3 447.6l3.8 3.8-3.8 3.8-3.8-3.8zM529.3 446.6l3.8 3.8-3.8 3.8-3.8-3.8zM532.3 447.6l3.8 3.8-3.8 3.8-3.8-3.8zM534.3 447.6l3.8 3.8-3.8 3.8-3.8-3.8zM537.3 447.6l3.8 3.8-3.8 3.8-3.8-3.8zM539.3 447.6l3.8 3.8-3.8 3.8-3.8-3.8zM542.3 447.6l3.8 3.8-3.8 3.8-3.8-3.8zM544.3 447.6l3.8 3.8-3.8 3.8-3.8-3.8zM547.3 448.6l3.8 3.8-3.8 3.8-3.8-3.8zM549.3 447.6l3.8 3.8-3.8 3.8-3.8-3.8zM552.3 447.6l3.8 3.8-3.8 3.8-3.8-3.8zM554.3 447.6l3.8 3.8-3.8 3.8-3.8-3.8zM557.3 447.6l3.8 3.8-3.8 3.8-3.8-3.8zM559.3 447.6l3.8 3.8-3.8 3.8-3.8-3.8zM562.3 447.6l3.8 3.8-3.8 3.8-3.8-3.8zM564.3 447.6l3.8 3.8-3.8 3.8-3.8-3.8zM567.3 447.6l3.8 3.8-3.8 3.8-3.8-3.8zM569.3 447.6l3.8 3.8-3.8 3.8-3.8-3.8zM572.3 447.6l3.8 3.8-3.8 3.8-3.8-3.8zM574.3 447.6l3.8 3.8-3.8 3.8-3.8-3.8zM577.3 447.6l3.8 3.8-3.8 3.8-3.8-3.8zM579.3 447.6l3.8 3.8-3.8 3.8-3.8-3.8zM582.3 447.6l3.8 3.8-3.8 3.8-3.8-3.8zM584.3 448.6l3.8 3.8-3.8 3.8-3.8-3.8zM587.3 447.6l3.8 3.8-3.8 3.8-3.8-3.8zM589.3 448.6l3.8 3.8-3.8 3.8-3.8-3.8zM592.3 448.6l3.8 3.8-3.8 3.8-3.8-3.8zM594.3 448.6l3.8 3.8-3.8 3.8-3.8-3.8zM597.3 448.6l3.8 3.8-3.8 3.8-3.8-3.8zM599.3 448.6l3.8 3.8-3.8 3.8-3.8-3.8zM602.3 448.6l3.8 3.8-3.8 3.8-3.8-3.8zM604.3 448.6l3.8 3.8-3.8 3.8-3.8-3.8zM607.3 448.6l3.8 3.8-3.8 3.8-3.8-3.8zM609.3 448.6l3.8 3.8-3.8 3.8-3.8-3.8zM612.3 448.6l3.8 3.8-3.8 3.8-3.8-3.8zM614.3 448.6l3.8 3.8-3.8 3.8-3.8-3.8zM617.3 448.6l3.8 3.8-3.8 3.8-3.8-3.8zM619.3 448.6l3.8 3.8-3.8 3.8-3.8-3.8zM622.3 448.6l3.8 3.8-3.8 3.8-3.8-3.8zM624.3 448.6l3.8 3.8-3.8 3.8-3.8-3.8zM627.3 448.6l3.8 3.8-3.8 3.8-3.8-3.8zM629.3 448.6l3.8 3.8-3.8 3.8-3.8-3.8zM632.3 448.6l3.8 3.8-3.8 3.8-3.8-3.8zM634.3 448.6l3.8 3.8-3.8 3.8-3.8-3.8zM637.3 448.6l3.8 3.8-3.8 3.8-3.8-3.8zM639.3 448.6l3.8 3.8-3.8 3.8-3.8-3.8zM642.3 448.6l3.8 3.8-3.8 3.8-3.8-3.8zM644.3 448.6l3.8 3.8-3.8 3.8-3.8-3.8zM647.3 448.6l3.8 3.8-3.8 3.8-3.8-3.8zM649.3 448.6l3.8 3.8-3.8 3.8-3.8-3.8zM652.3 448.6l3.8 3.8-3.8 3.8-3.8-3.8z" fill="#FF00FF"/>
<g font-family="Liberation Sans, sans-serif" font-size="14.9" fill="#000" text-anchor="end">
<text x="81.7" y="458.6">0</text>
<text x="81.7" y="394.6">20,000</text>
<text x="81.7" y="330.7">40,000</text>
<text x="81.7" y="266.8">60,000</text>
<text x="81.7" y="202.9">80,000</text>
<text x="81.7" y="139.0">100,000</text>
<text x="81.7" y="75.1">120,000</text>
<text x="81.7" y="11.2">140,000</text>
</g>
<g font-family="Liberation Serif, serif" font-size="15.8" fill="#333" text-anchor="middle">
<text x="94.2" y="485">1.5</text>
<text x="152.2" y="485">2</text>
<text x="210.3" y="485">2.5</text>
<text x="268.4" y="485">3</text>
<text x="326.5" y="485">3.5</text>
<text x="384.6" y="485">4</text>
<text x="442.7" y="485">4.5</text>
<text x="500.8" y="485">5</text>
<text x="558.9" y="485">5.5</text>
<text x="617.0" y="485">6</text>
<text x="675.1" y="485">6.5</text>
</g>
<text x="385" y="509.5" font-family="Liberation Serif, serif" font-weight="bold" font-size="16.8" fill="#111" text-anchor="middle">Log(f)</text>
<g transform="translate(18.4,243) rotate(-90)" font-family="Liberation Serif, serif" font-weight="bold" font-style="italic" fill="#000"><text x="0" y="0" font-size="26.2">&#949;</text></g>
<path d="M-2 218.7L6.4 223.1L6.2 223.8L-2 221.8ZM-2 224.4L6.5 228.7L6.3 229.4L-2 227.4Z" fill="#000"/>
<rect x="538.65" y="20.8" width="118.35" height="133.9" rx="0" fill="#fff" stroke="#262626" stroke-width="1.5" stroke-dasharray="7.25 4.43"/>
<path d="M558 31.00l3.9 3.9-3.9 3.9-3.9-3.9z" fill="#00FF00"/>
<text x="567.2" y="39.5" font-family="Liberation Serif, serif" font-size="16" letter-spacing="0.38" fill="#111">CSPCFSN1</text>
<path d="M558 57.45l3.9 3.9-3.9 3.9-3.9-3.9z" fill="#FFCC99"/>
<text x="567.2" y="65.9" font-family="Liberation Serif, serif" font-size="16" letter-spacing="0.38" fill="#111">CSPCFSN2</text>
<path d="M558 83.90l3.9 3.9-3.9 3.9-3.9-3.9z" fill="#00CCFF"/>
<text x="567.2" y="92.4" font-family="Liberation Serif, serif" font-size="16" letter-spacing="0.38" fill="#111">CSPCFSN3</text>
<path d="M558 110.35l3.9 3.9-3.9 3.9-3.9-3.9z" fill="#FF6600"/>
<text x="567.2" y="118.8" font-family="Liberation Serif, serif" font-size="16" letter-spacing="0.38" fill="#111">CSPCFSN4</text>
<path d="M558 136.80l3.9 3.9-3.9 3.9-3.9-3.9z" fill="#FF00FF"/>
<text x="567.2" y="145.3" font-family="Liberation Serif, serif" font-size="16" letter-spacing="0.38" fill="#111">CSPCFSN5</text>
</svg>
</body></html>
